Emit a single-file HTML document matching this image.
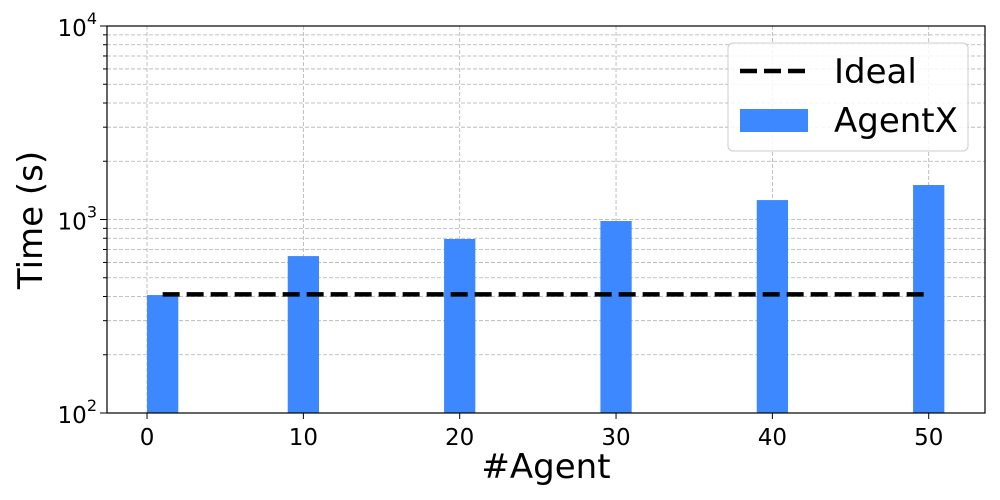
<!DOCTYPE html>
<html><head><meta charset="utf-8"><style>
body{margin:0;background:#fff;}
svg{display:block;font-family:"DejaVu Sans","Liberation Sans",sans-serif;}
</style></head><body>
<svg id="chart" width="1000" height="500" viewBox="0 0 1000 500"></svg>
<script>
const categories=[1,10,20,30,40,50];
const agentxValues=[407,647,793,982,1260,1507];
const idealValues=[410,410];
const idealX=[1,50];
const xTicks=[0,10,20,30,40,50];
const yMajor=[2,3,4];
const L=107,R=985,T=26,B=413;
const xMin=-2.56,xMax=53.6;
const sx=v=>L+(v-xMin)/(xMax-xMin)*(R-L);
const sy=v=>B-(Math.log10(v)-2)/2*(B-T);
const svg=document.getElementById('chart');
const NS='http://www.w3.org/2000/svg';
function mk(tag,attrs,parent){const e=document.createElementNS(NS,tag);for(const k in attrs)e.setAttribute(k,attrs[k]);(parent||svg).appendChild(e);return e;}
const grid=mk('g',{});


for(let d=2;d<4;d++)for(let m=1;m<=9;m++){const v=m*Math.pow(10,d);if(v===100)continue;const y=sy(v);
mk('line',{x1:L,x2:R,y1:y,y2:y,stroke:'#b0b0b0','stroke-width':0.8,'stroke-dasharray':'4,2'},grid);
mk('line',{x1:L-4,x2:L,y1:y,y2:y,stroke:'#000','stroke-width':1},grid);}
xTicks.forEach(t=>{const x=sx(t);mk('line',{x1:x,x2:x,y1:T,y2:B,stroke:'#b0b0b0','stroke-width':0.8,'stroke-dasharray':'4,2'},grid);
mk('line',{x1:x,x2:x,y1:B,y2:B+6,stroke:'#000','stroke-width':1},grid);
const tx=mk('text',{x:x,y:B+32,'font-size':23,'text-anchor':'middle'});tx.textContent=t;

});
yMajor.forEach(p=>{const y=sy(Math.pow(10,p));mk('line',{x1:L-7,x2:L,y1:y,y2:y,stroke:'#000','stroke-width':1},grid);
const tx=mk('text',{x:L-10,y:y+10,'font-size':23,'text-anchor':'end'});
tx.innerHTML='10<tspan dy="-12" font-size="16">'+p+'</tspan>';

});
categories.forEach((c,i)=>{const x0=sx(c-1),x1=sx(c+1),y=sy(agentxValues[i]);
const b=mk('rect',{x:x0,y:y,width:x1-x0,height:B-y,fill:'#3d88ff'});

});
const il=mk('line',{x1:sx(idealX[0]),x2:sx(idealX[1]),y1:sy(idealValues[0]),y2:sy(idealValues[1]),stroke:'#000','stroke-width':4.5,'stroke-dasharray':'17,7'});


const ax=mk('rect',{x:L,y:T,width:R-L,height:B-T,fill:'none',stroke:'#000','stroke-width':1.2});


const xl=mk('text',{x:(L+R)/2,y:478,'font-size':34,'text-anchor':'middle'});xl.textContent='#Agent';


const yl=mk('text',{x:0,y:0,'font-size':34,'text-anchor':'middle',transform:'translate(42,220) rotate(-90)'});yl.textContent='Time (s)';


const lg=mk('g',{});


mk('rect',{x:728,y:43,width:240,height:108,rx:5,fill:'#fff','fill-opacity':0.85,stroke:'#ccc'},lg);
mk('line',{x1:740,x2:808,y1:71,y2:71,stroke:'#000','stroke-width':4.5,'stroke-dasharray':'17,7'},lg);
const t1=mk('text',{x:834,y:83,'font-size':34},lg);t1.textContent='Ideal';


mk('rect',{x:740,y:109,width:68,height:23,fill:'#3d88ff'},lg);
const t2=mk('text',{x:834,y:132,'font-size':34},lg);t2.textContent='AgentX';


</script>
</body></html>
